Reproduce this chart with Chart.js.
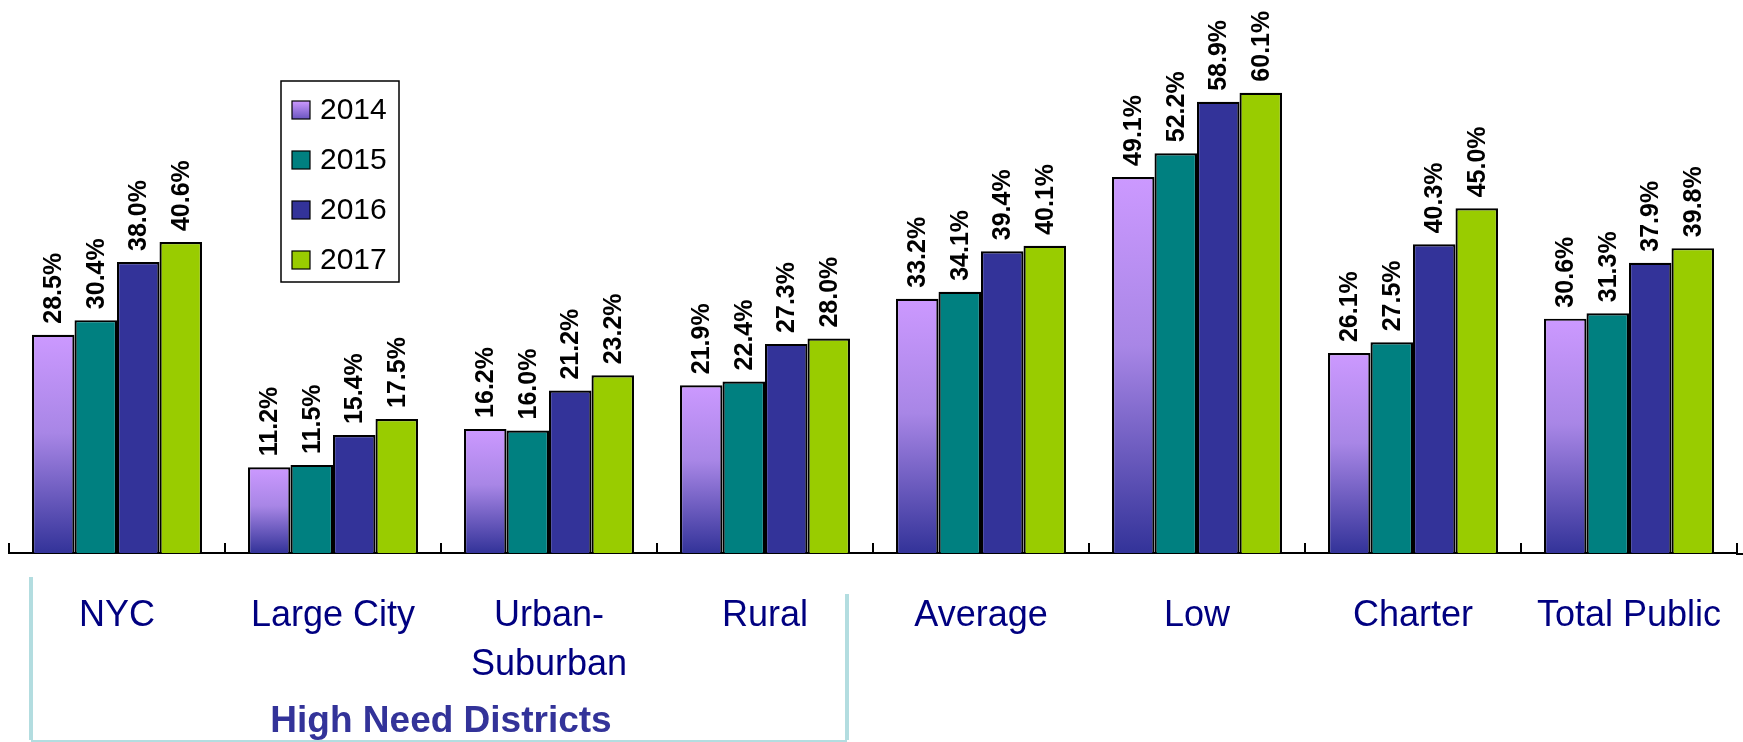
<!DOCTYPE html>
<html>
<head>
<meta charset="utf-8">
<script src="https://cdn.jsdelivr.net/npm/chart.js@4.4.1/dist/chart.umd.min.js"></script>
<style>
  html, body { margin: 0; padding: 0; background: #fff; }
  #wrap { width: 1743px; height: 742px; position: relative; }
</style>
</head>
<body>
<div id="wrap"><canvas id="bar-chart"></canvas></div>
<script>
// categories (multi-line labels as arrays)
const categories = ['NYC', 'Large City', ['Urban-', 'Suburban'], 'Rural', 'Average', 'Low', 'Charter', 'Total Public'];
const years = ['2014', '2015', '2016', '2017'];

const values2014 = [28.5, 11.2, 16.2, 21.9, 33.2, 49.1, 26.1, 30.6];
const values2015 = [30.4, 11.5, 16.0, 22.4, 34.1, 52.2, 27.5, 31.3];
const values2016 = [38.0, 15.4, 21.2, 27.3, 39.4, 58.9, 40.3, 37.9];
const values2017 = [40.6, 17.5, 23.2, 28.0, 40.1, 60.1, 45.0, 39.8];

const groupLabel = 'High Need Districts';

const FONT = "'Liberation Sans', Arial, sans-serif";

// gradient for 2014 bars, from top of each bar down to the base
const gradient2014 = (ctx) => {
  const chart = ctx.chart;
  const ys = chart.scales.y;
  if (!ys || typeof ctx.raw !== 'number') return '#CC99FF';
  const top = ys.getPixelForValue(ctx.raw);
  const base = ys.getPixelForValue(0);
  if (!isFinite(top) || !isFinite(base) || top === base) return '#CC99FF';
  const g = chart.ctx.createLinearGradient(0, top, 0, base);
  g.addColorStop(0, '#CC99FF');
  g.addColorStop(0.45, '#A886E6');
  g.addColorStop(1, '#333399');
  return g;
};

const legendSwatch2014 = (c, x, y, s) => {
  const g = c.createLinearGradient(0, y, 0, y + s);
  g.addColorStop(0, '#CC99FF');
  g.addColorStop(1, '#6a55c0');
  return g;
};

// rotated value labels above bars
const valueLabels = {
  id: 'valueLabels',
  afterDatasetsDraw(chart) {
    const c = chart.ctx;
    c.save();
    c.font = 'bold 25px ' + FONT;
    c.fillStyle = '#000';
    c.textAlign = 'left';
    c.textBaseline = 'middle';
    chart.data.datasets.forEach((ds, i) => {
      chart.getDatasetMeta(i).data.forEach((bar, j) => {
        c.save();
        c.translate(bar.x + 1, bar.y - 11);
        c.rotate(-Math.PI / 2);
        c.fillText(ds.data[j].toFixed(1) + '%', 0, 0);
        c.restore();
      });
    });
    c.restore();
  }
};

// boxed legend inside the plot + group bracket below the axis
const extras = {
  id: 'extras',
  afterDraw(chart) {
    const c = chart.ctx;
    const xs = chart.scales.x;
    const area = chart.chartArea;
    c.save();

    // axis line runs a little past the last tick
    c.strokeStyle = '#000';
    c.lineWidth = 2;
    c.beginPath();
    c.moveTo(area.right - 1, area.bottom + 1);
    c.lineTo(chart.width, area.bottom + 1);
    c.stroke();

    // legend box
    const lx = 281, ly = 81, lw = 118, lh = 201;
    c.fillStyle = '#fff';
    c.fillRect(lx, ly, lw, lh);
    c.strokeStyle = '#000';
    c.lineWidth = 1.5;
    c.strokeRect(lx, ly, lw, lh);
    c.font = '30px ' + FONT;
    c.textAlign = 'left';
    c.textBaseline = 'middle';
    chart.data.datasets.forEach((ds, i) => {
      const cy = 110 + i * 50;
      const sx = 292, sy = cy - 9, s = 18;
      c.fillStyle = i === 0 ? legendSwatch2014(c, sx, sy, s) : ds.backgroundColor;
      c.fillRect(sx, sy, s, s);
      c.lineWidth = 1.2;
      c.strokeStyle = '#000';
      c.strokeRect(sx, sy, s, s);
      c.fillStyle = '#000';
      c.fillText(ds.label, 320, cy + 1);
    });

    // bracket for the high need group
    const left = xs.getPixelForValue(0) - 86;
    const right = xs.getPixelForValue(3) + 82;
    const bottom = 740;
    c.strokeStyle = '#B3DDE0';
    c.lineWidth = 4;
    c.beginPath();
    c.moveTo(left, 577);
    c.lineTo(left, bottom);
    c.stroke();
    c.beginPath();
    c.moveTo(right, 594);
    c.lineTo(right, bottom);
    c.stroke();
    c.lineWidth = 2;
    c.beginPath();
    c.moveTo(left, bottom + 1);
    c.lineTo(right, bottom + 1);
    c.stroke();

    c.fillStyle = '#333399';
    c.font = 'bold 37px ' + FONT;
    c.textAlign = 'center';
    c.textBaseline = 'alphabetic';
    const mid = (xs.getPixelForValue(0) + xs.getPixelForValue(3)) / 2;
    c.fillText(groupLabel, mid, 732);

    c.restore();
  }
};

const ctx = document.getElementById('bar-chart').getContext('2d');
new Chart(ctx, {
  type: 'bar',
  data: {
    labels: categories,
    datasets: [
      { label: years[0], data: values2014, backgroundColor: gradient2014 },
      { label: years[1], data: values2015, backgroundColor: '#008080' },
      { label: years[2], data: values2016, backgroundColor: '#333399' },
      { label: years[3], data: values2017, backgroundColor: '#99CC00' }
    ]
  },
  options: {
    responsive: true,
    maintainAspectRatio: false,
    animation: false,
    layout: { padding: { left: 9, right: 6, top: 0, bottom: 0 } },
    datasets: {
      bar: {
        borderColor: '#000',
        borderWidth: 2.2,
        barPercentage: 1.0,
        categoryPercentage: 0.787
      }
    },
    plugins: {
      legend: { display: false },
      tooltip: { enabled: false }
    },
    scales: {
      y: {
        display: false,
        min: 0,
        max: 72.2
      },
      x: {
        afterFit: (s) => {
          s.height = 189;
          s.paddingLeft = 0;
          s.paddingRight = 0;
        },
        border: { display: true, color: '#000', width: 2 },
        grid: {
          offset: true,
          drawOnChartArea: false,
          drawTicks: true,
          tickLength: -10,
          color: '#000',
          lineWidth: 2
        },
        ticks: {
          autoSkip: false,
          maxRotation: 0,
          padding: 48,
          color: '#000080',
          font: { family: FONT, size: 36, lineHeight: 1.38 }
        }
      }
    }
  },
  plugins: [valueLabels, extras]
});
</script>
</body>
</html>
